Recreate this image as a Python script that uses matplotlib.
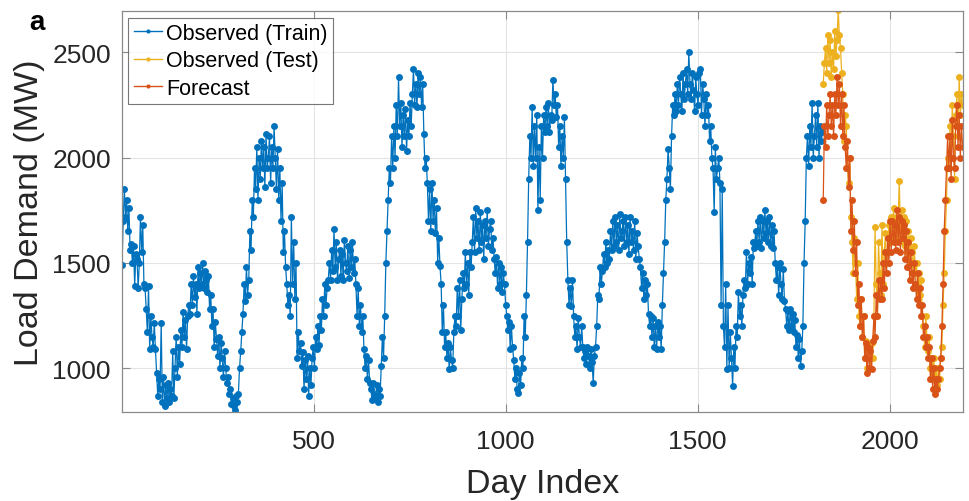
import numpy as np
import matplotlib
matplotlib.use("Agg")
import matplotlib.pyplot as plt

plt.rcParams['font.family'] = ['Liberation Sans', 'DejaVu Sans']

# Daily load demand, one reading every 3 days (MW)
step_days = 3
train_start_day = 1
test_start_day = 1827

train_load = [
    1490, 1700, 1850, 1720, 1800, 1650, 1760, 1560, 1590, 1500,
    1580, 1390, 1540, 1520, 1380, 1500, 1720, 1550, 1680, 1400,
    1380, 1280, 1170, 1390, 1090, 1250, 1150, 1100, 1216, 1090,
    980, 870, 950, 900, 1216, 840, 960, 820, 920, 860,
    930, 840, 900, 870, 1080, 860, 1000, 1150, 960, 1100,
    1020, 1180, 1100, 1265, 1150, 1230, 1090, 1250, 1300, 1260,
    1400, 1300, 1437, 1340, 1400, 1260, 1480, 1380, 1450, 1400,
    1500, 1380, 1460, 1420, 1360, 1440, 1280, 1350, 1200, 1280,
    1100, 1220, 1140, 1060, 1150, 1000, 1120, 1050, 960, 1080,
    1000, 930, 960, 880, 900, 830, 860, 820, 800, 870,
    840, 880, 1000, 1080, 1170, 1260, 1400, 1320, 1480, 1350,
    1420, 1650, 1560, 1800, 1720, 1950, 1850, 2050, 1800, 2000,
    1900, 2080, 1950, 2050, 1860, 2110, 1950, 2000, 2100, 1880,
    2050, 1950, 2150, 2000, 1850, 2040, 1800, 1950, 1700, 1880,
    1550, 1650, 1480, 1400, 1300, 1350, 1250, 1720, 1400, 1600,
    1330, 1500, 1050, 1170, 1080, 1120, 1010, 1075, 900, 1040,
    950, 1060, 870, 1000, 920, 1050, 1100, 1000, 1150, 1090,
    1200, 1110, 1250, 1180, 1330, 1250, 1400, 1300, 1380, 1420,
    1500, 1420, 1560, 1460, 1660, 1480, 1600, 1420, 1520, 1560,
    1440, 1540, 1420, 1610, 1500, 1460, 1580, 1430, 1560, 1480,
    1600, 1450, 1520, 1400, 1250, 1380, 1200, 1300, 1170, 1250,
    1090, 1000, 1060, 950, 1040, 930, 900, 850, 930, 880,
    860, 920, 840, 900, 870, 1010, 1150, 1050, 1250, 1500,
    1650, 1800, 1950, 1880, 2100, 1950, 2150, 2000, 2250, 2100,
    2380, 2150, 2260, 2050, 2200, 2100, 2230, 2030, 2180, 2100,
    2260, 2150, 2300, 2420, 2250, 2350, 2240, 2400, 2300, 2380,
    2240, 2350, 2110, 1950, 2000, 1880, 1700, 1850, 1650, 1880,
    1700, 1800, 1640, 1760, 1500, 1620, 1485, 1400, 1170, 1300,
    1100, 1170, 1050, 1120, 995, 1100, 1040, 1000, 1170, 1250,
    1200, 1380, 1250, 1420, 1180, 1330, 1450, 1380, 1550, 1400,
    1500, 1350, 1550, 1480, 1600, 1720, 1550, 1760, 1620, 1700,
    1560, 1740, 1600, 1680, 1520, 1700, 1620, 1750, 1580, 1660,
    1700, 1560, 1620, 1520, 1450, 1530, 1380, 1500, 1400, 1480,
    1360, 1450, 1400, 1300, 1250, 1180, 1220, 1090, 1200, 1100,
    1040, 950, 1000, 900, 885, 980, 920, 1050, 1000, 1250,
    1150, 1350, 1600, 1900, 2100, 2000, 2240, 1960, 2150, 2000,
    2200, 1750, 2050, 1800, 2150, 2000, 2200, 2120, 2240, 2150,
    2260, 2120, 2200, 2180, 2370, 2250, 2300, 2190, 2250, 2050,
    2150, 1960, 2100, 2000, 2190, 1900, 1600, 1420, 1300, 1380,
    1295, 1420, 1250, 1150, 1200, 1090, 1240, 1150, 1100, 1200,
    1100, 1050, 1080, 1020, 1100, 1060, 1000, 1090, 1030, 930,
    1060, 1100, 1200, 1350, 1330, 1480, 1400, 1460, 1540, 1480,
    1600, 1500, 1560, 1520, 1650, 1560, 1700, 1580, 1720, 1600,
    1680, 1560, 1730, 1620, 1650, 1700, 1580, 1720, 1600, 1680,
    1540, 1720, 1600, 1650, 1560, 1700, 1520, 1640, 1580, 1520,
    1480, 1380, 1450, 1330, 1420, 1350, 1400, 1260, 1200, 1250,
    1150, 1240, 1100, 1200, 1090, 1220, 1150, 1200, 1090, 1300,
    1450, 1600, 1800, 1900, 2040, 1950, 1850, 2100, 2250, 2200,
    2300, 2220, 2350, 2250, 2380, 2300, 2220, 2400, 2280, 2350,
    2420, 2300, 2500, 2350, 2280, 2400, 2320, 2220, 2380, 2300,
    2250, 2400, 2420, 2200, 2350, 2280, 2150, 2300, 2200, 2250,
    2080, 2150, 2000, 1950, 1740, 2050, 1900, 1950, 2000, 1880,
    1300, 1850, 1200, 1100, 1400, 995, 1300, 1000, 1170, 1050,
    915, 1100, 1000, 1200, 1150, 1360, 1250, 1300, 1200, 1350,
    1420, 1380, 1550, 1400, 1500, 1450, 1530, 1400, 1600, 1570,
    1650, 1580, 1700, 1600, 1720, 1570, 1700, 1620, 1750, 1640,
    1700, 1600, 1720, 1580, 1680, 1570, 1650, 1500, 1420, 1480,
    1350, 1500, 1400, 1330, 1470, 1320, 1280, 1200, 1270, 1180,
    1280, 1200, 1260, 1170, 1230, 1100, 1160, 1050, 1140, 1010,
    1080, 1200, 1500, 1700, 2000, 2100, 1960, 2150, 2050, 2260,
    2000, 2100, 2200, 2050, 2260, 2000, 2150, 2080, 2120,
]

test_load = [
    2350, 2450, 2520, 2400, 2580, 2450, 2560, 2380, 2500, 2420,
    2600, 2480, 2560, 2700, 2580, 2520, 2400, 2300, 2080, 2200,
    2150, 1950, 1880, 2000, 1720, 1600, 1450, 1620, 1500, 1330,
    1500, 1250, 1200, 1330, 1150, 1250, 1050, 1130, 1000, 1100,
    1050, 1000, 1120, 1050, 1250, 1670, 1400, 1250, 1600, 1450,
    1350, 1680, 1400, 1550, 1640, 1500, 1550, 1680, 1600, 1720,
    1620, 1760, 1650, 1720, 1620, 1700, 1890, 1650, 1750, 1600,
    1720, 1580, 1700, 1550, 1650, 1500, 1620, 1550, 1450, 1580,
    1450, 1500, 1330, 1450, 1350, 1420, 1250, 1200, 1100, 1250,
    1150, 1080, 1150, 1000, 1050, 980, 1050, 900, 1000, 920,
    1000, 950, 1050, 1100, 1300, 1450, 1650, 1800, 2000, 1950,
    2150, 2000, 2250, 2100, 1900, 2200, 2300, 2100, 2380, 2200,
    2300, 2250,
]

forecast_load = [
    1800, 2150, 2050, 2250, 2100, 2200, 2300, 2150, 2250, 2100,
    2300, 2200, 2380, 2250, 2350, 2150, 2300, 2100, 2250, 2050,
    1950, 2080, 1860, 2000, 1650, 1800, 1560, 1700, 1450, 1600,
    1300, 1400, 1200, 1330, 1150, 1250, 1050, 1120, 980, 1100,
    1000, 1080, 995, 1130, 1250, 1150, 1350, 1250, 1420, 1330,
    1420, 1330, 1500, 1380, 1550, 1450, 1620, 1500, 1700, 1550,
    1700, 1600, 1680, 1560, 1750, 1600, 1720, 1550, 1700, 1620,
    1680, 1520, 1650, 1480, 1600, 1420, 1550, 1450, 1380, 1500,
    1400, 1330, 1450, 1300, 1380, 1250, 1300, 1150, 1200, 1100,
    1150, 1050, 1100, 950, 1050, 900, 1000, 880, 950, 900,
    950, 1000, 1050, 1200, 1400, 1650, 1800, 1950, 2100, 1950,
    2100, 1900, 2180, 2000, 1950, 2150, 2250, 2050, 2200, 2000,
    2150, 2050,
]

x_ticks = [500, 1000, 1500, 2000]
y_ticks = [1000, 1500, 2000, 2500]

train_days = train_start_day + step_days * np.arange(len(train_load))
test_days = test_start_day + step_days * np.arange(len(test_load))
forecast_days = test_start_day + step_days * np.arange(len(forecast_load))

c_train = '#0072BD'
c_test = '#EDB120'
c_fc = '#D95319'

fig = plt.figure(figsize=(9.70, 5.02), dpi=100)
ax = fig.add_axes([0.1258, 0.177, 0.867, 0.799])

style = dict(marker='o', markersize=5.0, linewidth=0.9, markeredgewidth=0)
ax.plot(train_days, train_load, color=c_train, label='Observed (Train)', **style)
ax.plot(test_days, test_load, color=c_test, label='Observed (Test)', **style)
ax.plot(forecast_days, forecast_load, color=c_fc, label='Forecast', **style)

ax.set_xlim(1, 2191)
ax.set_ylim(792, 2695)
ax.set_xticks(x_ticks)
ax.set_yticks(y_ticks)
ax.grid(True, color='#e3e3e3', linewidth=0.8)
ax.set_axisbelow(True)
for s in ax.spines.values():
    s.set_color('#8a8a8a')
    s.set_linewidth(0.9)
ax.tick_params(direction='in', length=6, width=0.8, color='#8a8a8a',
               top=True, right=True, labelsize=19, labelcolor='#262626')
ax.tick_params(axis='x', pad=12)
ax.tick_params(axis='y', pad=8)

ax.set_xlabel('Day Index', fontsize=24.5, color='#262626', labelpad=11)
ax.set_ylabel('Load Demand (MW)', fontsize=24.5, color='#262626', labelpad=5)

leg = ax.legend(loc='upper left', fontsize=15.5, frameon=True, fancybox=False,
                edgecolor='#555555', handlelength=1.3, handletextpad=0.2,
                borderpad=0.25, labelspacing=0.3, borderaxespad=0.3,
                markerscale=0.6)
leg.get_frame().set_linewidth(0.8)
for line in leg.get_lines():
    line.set_linewidth(1.0)

fig.text(0.030, 0.955, 'a', fontsize=20, fontweight='bold', color='black',
         ha='left', va='center')

fig.savefig('out.png', dpi=100)
